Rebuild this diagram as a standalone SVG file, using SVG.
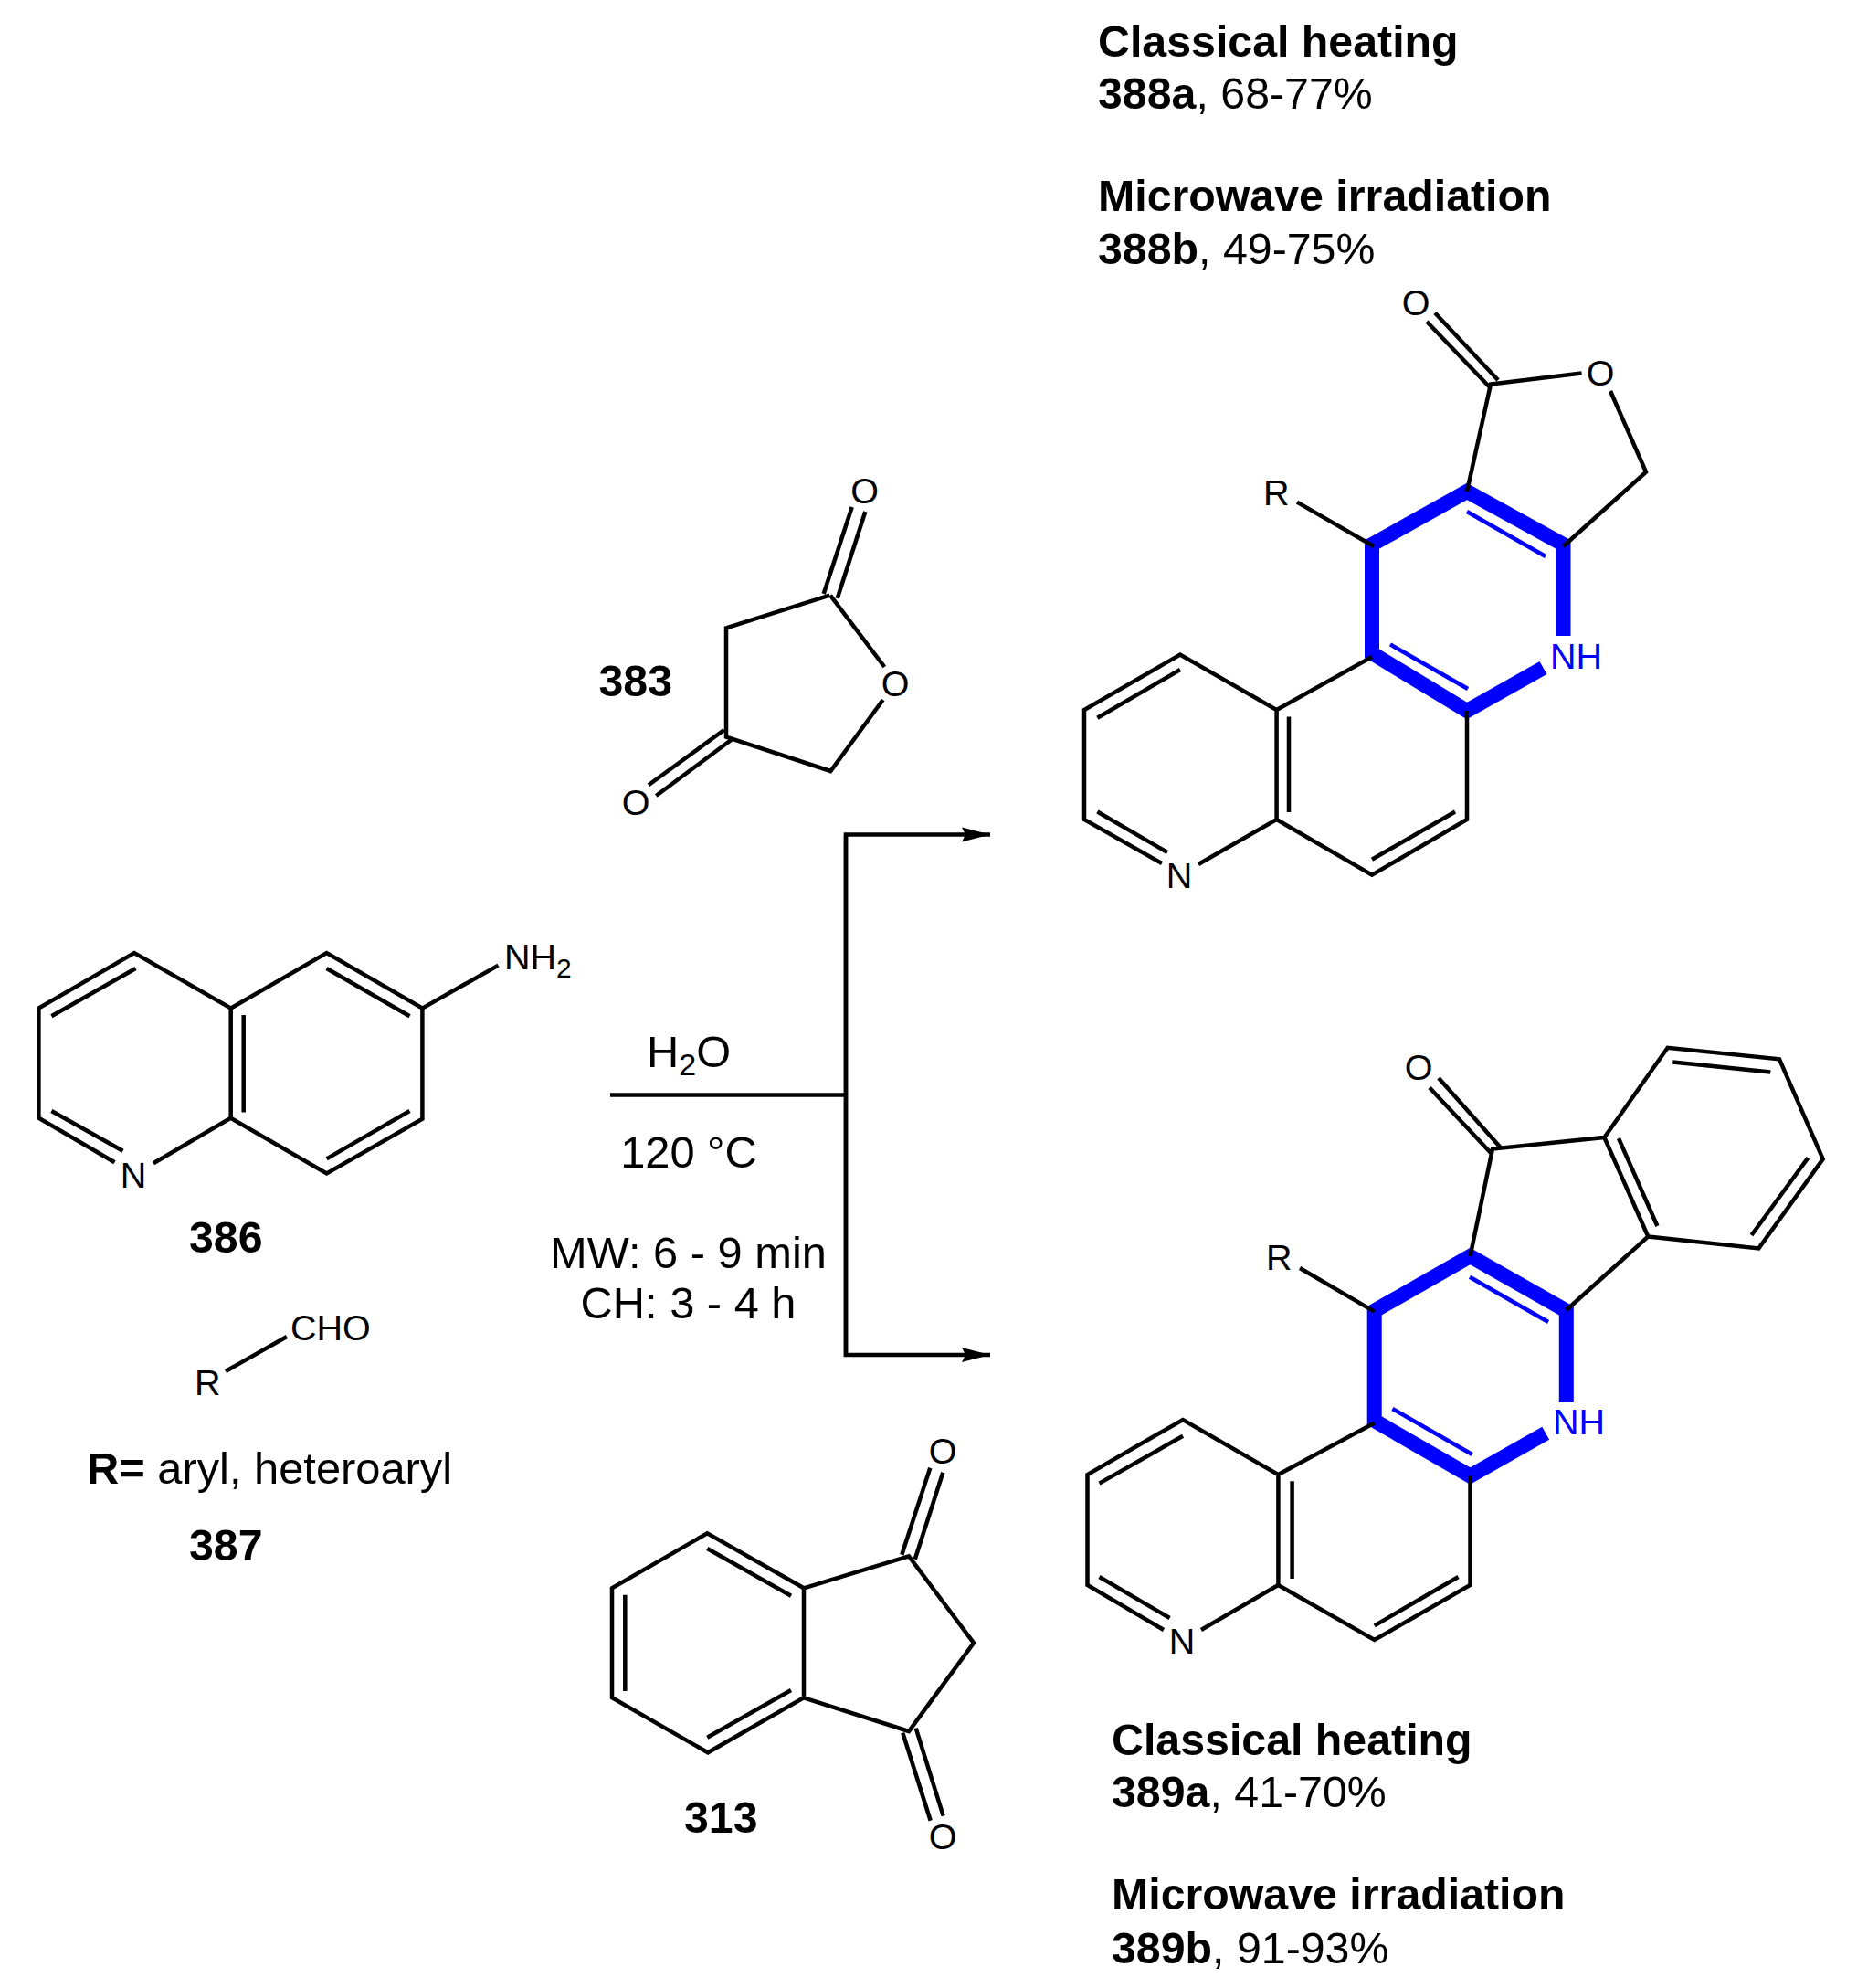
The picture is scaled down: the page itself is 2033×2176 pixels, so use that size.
<svg xmlns="http://www.w3.org/2000/svg" width="2033" height="2176" viewBox="0 0 2033 2176">
<style>
text{font-family:"Liberation Sans",Arial,sans-serif;fill:#000}
.b{fill:none;stroke:#000;stroke-width:4.500;stroke-linejoin:miter}
.bl{fill:none;stroke:#0000ff;stroke-width:16;stroke-linejoin:miter}
.bt{fill:none;stroke:#0000ff;stroke-width:4.500}
.a{font-size:39.500px}
.l{font-size:48.800px}
.h{font-size:48.300px}
.w{font-weight:bold}
.blue{fill:#0000ff}
</style>
<defs>
<marker id="ah" markerUnits="userSpaceOnUse" markerWidth="32" markerHeight="18" refX="31" refY="9" orient="auto"><path d="M0,1 L31,9 L0,17 L4,9 Z" fill="#000"/></marker>
</defs>
<rect width="2033" height="2176" fill="#fff"/>
<g id="connectors">
<path class="b" d="M668,1198.500 H926"/>
<path class="b" d="M926,1485 V913.500 H1084" marker-end="url(#ah)"/>
<path class="b" d="M926,913.500 V1483 H1084" marker-end="url(#ah)"/>
</g>
<g id="compound-386">
<path class="b" d="M125.500,1272.300 L42.400,1223.800 V1103.600 L147,1043 L252.700,1103.600 V1223.800 L168,1273.300 M252.700,1103.600 L357.600,1043 L462.400,1103.600 V1224.800 L357.600,1284.400 L252.700,1223.800 M462.400,1103.600 L545.500,1056.600 M56.400,1112.300 L148.500,1060 M266.700,1111 V1217.500 M357.600,1060 L448.500,1112.300 M448.500,1216 L357.600,1268.400 M56.400,1216 L134.500,1259.700"/>
<text class="a" x="146" y="1300" text-anchor="middle">N</text>
<text class="a" x="552" y="1061">NH<tspan font-size="30" dy="9">2</tspan></text>
<text class="h w" x="207" y="1371">386</text>
</g>
<g id="compound-387">
<path class="b" d="M247,1501 L314,1463"/>
<text class="a" x="318" y="1467">CHO</text>
<text class="a" x="213" y="1527">R</text>
<text class="l" x="95" y="1624"><tspan class="w">R=</tspan> aryl, heteroaryl</text>
<text class="h w" x="207" y="1708">387</text>
</g>
<g id="conditions">
<text class="l" x="708" y="1168">H<tspan font-size="34" dy="9">2</tspan><tspan dy="-9">O</tspan></text>
<text class="l" x="754" y="1278" text-anchor="middle">120 °C</text>
<text class="l" x="753.500" y="1388" text-anchor="middle">MW: 6 - 9 min</text>
<text class="l" x="753.500" y="1443" text-anchor="middle">CH: 3 - 4 h</text>
</g>
<g id="compound-383">
<path class="b" d="M908.300,651.700 L795,687.300 V806.700 L909.300,844 L966.700,766 M909,651.700 L968.300,730 M901.700,650 L932.700,555 M916.700,655 L947.300,560 M792.700,799 L710,859.300 M801.700,809 L718.300,871"/>
<text class="a" x="946.700" y="551" text-anchor="middle">O</text>
<text class="a" x="980" y="762" text-anchor="middle">O</text>
<text class="a" x="696" y="892" text-anchor="middle">O</text>
<text class="h w" x="655.500" y="762">383</text>
</g>
<g id="compound-313">
<path class="b" d="M880,1738.300 L774.300,1678.300 L670,1738.300 V1858.300 L775,1918.300 L880,1858.300 Z M880,1738.300 L995,1703.300 L1066,1798.300 L995,1895 L880,1858.300 M774.300,1695 L866,1746.700 M684.300,1745.700 V1851 M774.300,1901.700 L866,1850 M987.300,1701.700 L1018.300,1606.700 M1001.700,1706.700 L1032.300,1611.700 M988.300,1896.700 L1018.700,1992.700 M1002.700,1891.700 L1032.700,1987.700"/>
<text class="a" x="1032" y="1602" text-anchor="middle">O</text>
<text class="a" x="1032" y="2024" text-anchor="middle">O</text>
<text class="h w" x="749" y="2006">313</text>
</g>
<g id="compound-388">
<path class="bl" d="M1502,721 V596 L1606,538 L1711.500,596 V696 M1689.500,731 L1606,778 L1502,715"/>
<path class="bt" d="M1606,560 L1692,609 M1522,705.400 L1607,754"/>
<path class="b" d="M1272,945 L1187,897 V777 L1292,716.600 L1397.600,777 V897 L1312,946 M1397.600,777 L1502,719 M1397.600,897 L1502,957.700 L1606,897 V778 M1201.400,785.800 L1292,733 M1411,784.500 V889 M1201.400,888.500 L1278,933 M1502,940.700 L1593,888.500 M1420,549.600 L1504,598 M1606,538 L1632,420.600 L1731.600,408.600 M1763,428 L1802,516.600 L1711.500,598 M1571,342.500 L1640,416 M1562,352 L1632,425"/>
<text class="a" x="1550" y="345" text-anchor="middle">O</text>
<text class="a" x="1752" y="422" text-anchor="middle">O</text>
<text class="a" x="1383" y="553">R</text>
<text class="a blue" x="1697" y="732">NH</text>
<text class="a" x="1291" y="972" text-anchor="middle">N</text>
<text class="h w" x="1202" y="62">Classical heating</text>
<text class="h" x="1202" y="119"><tspan class="w">388a</tspan>, 68-77%</text>
<text class="h w" x="1202" y="231">Microwave irradiation</text>
<text class="h" x="1202" y="289"><tspan class="w">388b</tspan>, 49-75%</text>
</g>
<g id="compound-389">
<path class="bl" d="M1504.700,1561 V1434.700 L1609.500,1375 L1714.800,1434.700 V1535 M1692.200,1568.700 L1609.500,1615.500 L1504.700,1555"/>
<path class="bt" d="M1609,1397.700 L1695,1447 M1524.400,1542 L1611.700,1592"/>
<path class="b" d="M1274,1784 L1190.500,1735 V1614 L1295,1554 L1399.400,1614 V1735 L1315,1784 M1399.400,1614 L1504.700,1557.500 M1399.400,1735 L1504.700,1795 L1609.500,1735 V1615.500 M1203.500,1623.600 L1295,1571.800 M1414.600,1621.300 V1728 M1203.500,1726 L1280.600,1771 M1504.700,1779.400 L1596.500,1726 M1423,1388 L1504.700,1435.600 M1609.500,1375 L1634,1257.500 L1756.400,1245 L1804.300,1353.500 L1714.800,1434 M1756.400,1245 L1825.700,1146.800 L1948,1159.300 L1995.700,1268.700 L1925.400,1366.400 L1804.300,1353.500 M1772,1246 L1814.400,1342 M1831.300,1162.400 L1938.300,1173.600 M1979.400,1267.300 L1917.500,1352 M1575,1180 L1642.700,1256 M1565,1190.500 L1634,1264"/>
<text class="a" x="1553" y="1182" text-anchor="middle">O</text>
<text class="a" x="1386" y="1390">R</text>
<text class="a blue" x="1700" y="1570">NH</text>
<text class="a" x="1294" y="1810" text-anchor="middle">N</text>
<text class="h w" x="1217" y="1921">Classical heating</text>
<text class="h" x="1217" y="1978"><tspan class="w">389a</tspan>, 41-70%</text>
<text class="h w" x="1217" y="2090">Microwave irradiation</text>
<text class="h" x="1217" y="2149"><tspan class="w">389b</tspan>, 91-93%</text>
</g>
</svg>
